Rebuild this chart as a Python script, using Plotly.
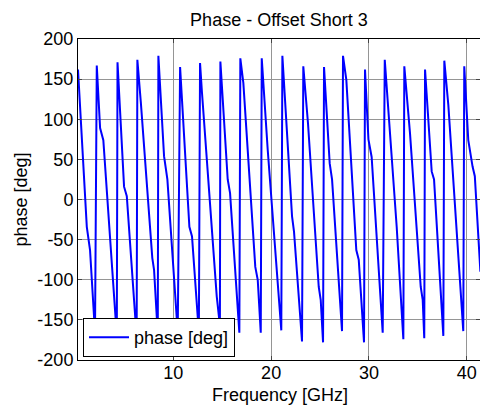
import plotly.graph_objects as go

# Frequency samples [GHz] (peaks, kinks, minima of each wrap)
freq_ghz = [
    0.25, 1.15, 1.48, 1.99,
    2.17, 2.51, 2.84, 4.11, 4.22,
    4.29, 4.96, 5.24, 6.25,
    6.32, 6.67, 7.85, 8.03, 8.41,
    8.47, 9.05, 9.39, 10.45,
    10.69, 11.64, 11.91, 12.61,
    12.73, 12.93, 14.44, 14.70, 14.76,
    14.81, 15.56, 15.80, 16.75,
    16.85, 17.16, 18.38, 18.63, 18.94,
    19.04, 19.65, 21.04,
    21.15, 22.14, 22.34, 23.16,
    23.29, 23.77, 24.87, 25.07, 25.31,
    25.41, 25.99, 26.23, 27.25,
    27.35, 27.69, 28.71, 28.96, 29.50,
    29.60, 29.95, 30.28, 31.41,
    31.62, 32.67, 32.84, 33.52,
    33.62, 34.20, 35.30, 35.50, 35.66,
    35.74, 36.42, 36.66, 37.61,
    37.71, 38.12, 39.24, 39.65,
    39.75, 40.16, 40.60, 40.83, 41.40,
]

# Wrapped phase [deg]
phase_deg = [
    162, -34, -63, -166,
    167, 89, 74, -146, -170,
    171, 16, 4, -172,
    174, 122, -73, -88, -168,
    179, 54, 25, -166,
    165, -34, -46, -166,
    170, 133, -121, -150, -172,
    172, 25, 8, -166,
    176, 145, -84, -100, -166,
    176, 62, -163,
    179, -21, -40, -177,
    166, 95, -109, -125, -178,
    165, 45, 25, -164,
    179, 149, -63, -75, -178,
    162, 75, 53, -166,
    174, -13, -34, -174,
    166, 83, -109, -125, -173,
    162, 35, 25, -170,
    173, 118, -88, -164,
    166, 74, 41, 29, -90,
]

x_ticks = [10, 20, 30, 40]
y_ticks = [-200, -150, -100, -50, 0, 50, 100, 150, 200]
y_tick_labels = ["-200", "-150", "-100", "-50", "0", "50", "100", "150", "200"]

FONT = "Liberation Sans, Arial, sans-serif"
FS = 18
L, R, T, B = 78, 0, 39, 47
W, H = 480, 407
PW, PH = W - L - R, H - T - B

fig = go.Figure()
fig.add_trace(go.Scatter(
    x=freq_ghz, y=phase_deg, mode="lines", name="phase [deg]",
    line=dict(color="#0000ff", width=2),
))

fig.update_layout(
    width=W, height=H,
    margin=dict(l=L, r=R, t=T, b=B, autoexpand=False),
    paper_bgcolor="white", plot_bgcolor="white",
    font=dict(family=FONT, size=FS, color="black"),
    title=dict(text="Phase - Offset Short 3", x=(L + W) / 2 / W, xanchor="center",
               y=1 - 20 / H, yanchor="middle", font=dict(size=FS)),
    showlegend=True,
    legend=dict(x=5 / PW, y=3 / PH, xanchor="left", yanchor="bottom",
                bgcolor="white", bordercolor="black", borderwidth=1,
                font=dict(size=FS), itemwidth=40),
    annotations=[
        dict(text="Frequency [GHz]", xref="paper", yref="paper",
             x=(280 - L) / PW, y=(H - B - 395) / PH, xanchor="center", yanchor="middle",
             showarrow=False, font=dict(size=FS)),
        dict(text="phase [deg]", xref="paper", yref="paper", textangle=-90,
             x=(20 - L) / PW, y=0.5, xanchor="center", yanchor="middle",
             showarrow=False, font=dict(size=FS)),
    ],
)
fig.update_xaxes(
    range=[0.25, 41.36], tickvals=x_ticks, ticks="inside", ticklen=4,
    ticklabelstandoff=-4,
    showgrid=True, gridcolor="#959595", gridwidth=1,
    showline=True, linecolor="black", linewidth=1, mirror="ticks",
    zeroline=False, automargin=False,
)
fig.update_yaxes(
    range=[-200, 200], tickvals=y_ticks, ticktext=y_tick_labels,
    ticks="inside", ticklen=4,
    showgrid=True, gridcolor="#959595", gridwidth=1,
    showline=True, linecolor="black", linewidth=1, mirror="ticks",
    zeroline=False, automargin=False,
)

fig.write_html(
    "out.html",
    config={"displayModeBar": False},
    post_script="document.body.style.margin='0';document.body.style.overflow='hidden';",
)
